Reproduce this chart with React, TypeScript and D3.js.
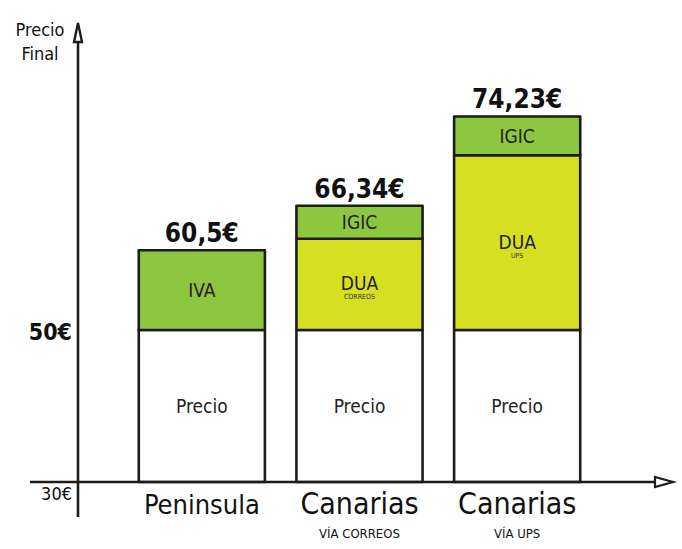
import React, { useEffect, useRef } from 'react';
import * as d3 from 'd3';

// categories and stacked segments (values in €)
const categories = ['Peninsula', 'Canarias', 'Canarias'];
const subLabels = ['', 'VÍA CORREOS', 'VÍA UPS'];
const totals = ['60,5€', '66,34€', '74,23€'];
const precio = [50, 50, 50];
const dua = [0, 12.0, 23.0];
const impuesto = [10.5, 4.34, 5.1];
const impuestoNames = ['IVA', 'IGIC', 'IGIC'];
const duaSub = ['', 'CORREOS', 'UPS'];
const yTicks = [30, 50];

const GREEN = '#8dc63f';
const YELLOW = '#d7df23';
const INK = '#1c1c1c';
const FONT = '"DejaVu Sans Condensed", "Liberation Sans Narrow", sans-serif';

const App: React.FC = () => {
  const ref = useRef<SVGSVGElement>(null);

  useEffect(() => {
    if (!ref.current) return;
    const svg = d3.select(ref.current);
    svg.selectAll('*').remove();

    const y = d3.scaleLinear().domain([30, 50]).range([482, 330]);
    const x = d3.scaleBand<number>().domain([0, 1, 2]).range([123, 596]).paddingInner(0.2).paddingOuter(0.1);

    // stacked bars
    categories.forEach((_, i) => {
      const g = svg.append('g');
      const x0 = x(i) as number;
      const w = x.bandwidth();
      const segs = [
        { lo: 30, hi: precio[i], fill: '#fff', name: 'Precio', sub: '' },
        { lo: precio[i], hi: precio[i] + dua[i], fill: YELLOW, name: 'DUA', sub: duaSub[i] },
        { lo: precio[i] + dua[i], hi: precio[i] + dua[i] + impuesto[i], fill: GREEN, name: impuestoNames[i], sub: '' },
      ].filter(s => s.hi > s.lo);

      segs.forEach(s => {
        g.append('rect')
          .attr('x', x0).attr('y', y(s.hi))
          .attr('width', w).attr('height', y(s.lo) - y(s.hi))
          .attr('fill', s.fill)
          .attr('stroke', INK).attr('stroke-width', 2.6)
          .attr('stroke-linejoin', 'round');
        const cy = (y(s.hi) + y(s.lo)) / 2;
        const big = s.name === 'DUA';
        g.append('text')
          .attr('x', x0 + w / 2).attr('y', big ? cy + 6 : cy + 7)
          .attr('text-anchor', 'middle')
          .style('font-family', FONT).style('font-weight', 300)
          .style('font-size', '19px').attr('fill', '#222')
          .text(s.name);
        if (s.sub) {
          g.append('text')
            .attr('x', x0 + w / 2).attr('y', cy + 15)
            .attr('text-anchor', 'middle')
            .style('font-family', FONT)
            .style('font-size', '7px').attr('fill', '#333')
            .text(s.sub);
        }
      });

      const top = precio[i] + dua[i] + impuesto[i];
      svg.append('text')
        .attr('x', x0 + w / 2).attr('y', y(top) - 8)
        .attr('text-anchor', 'middle')
        .style('font-family', FONT).style('font-weight', 'bold')
        .style('font-size', '26px').attr('fill', '#111')
        .text(totals[i]);

      svg.append('text')
        .attr('x', x0 + w / 2).attr('y', 514)
        .attr('text-anchor', 'middle')
        .style('font-family', FONT).style('font-weight', 500)
        .style('font-size', i === 0 ? '27px' : '30px').attr('fill', '#111')
        .text(categories[i]);
      if (subLabels[i]) {
        svg.append('text')
          .attr('x', x0 + w / 2).attr('y', 538)
          .attr('text-anchor', 'middle')
          .style('font-family', FONT)
          .style('font-size', '13px').attr('fill', '#111')
          .text(subLabels[i]);
      }
    });

    // axes (drawn by hand, sketch style)
    svg.append('line')
      .attr('x1', 30).attr('x2', 655).attr('y1', y(30)).attr('y2', y(30))
      .attr('stroke', INK).attr('stroke-width', 2.6);
    svg.append('path')
      .attr('d', `M655,${y(30) - 5} L673,${y(30)} L655,${y(30) + 5} Z`)
      .attr('fill', '#fff').attr('stroke', INK).attr('stroke-width', 2.2);

    svg.append('line')
      .attr('x1', 78).attr('x2', 78).attr('y1', 42).attr('y2', 517)
      .attr('stroke', INK).attr('stroke-width', 2.6);
    svg.append('path')
      .attr('d', `M78,23 L74,42 L82,42 Z`)
      .attr('fill', '#fff').attr('stroke', INK).attr('stroke-width', 2.4);

    yTicks.forEach(t => {
      svg.append('text')
        .attr('x', 72).attr('y', t === 30 ? y(t) + 18 : y(t) + 10)
        .attr('text-anchor', 'end')
        .style('font-family', FONT)
        .style('font-weight', t === 30 ? 300 : 'bold')
        .style('font-size', t === 30 ? '18px' : '23px').attr('fill', '#111')
        .text(`${t}€`);
    });

    svg.append('text')
      .attr('x', 40).attr('y', 36)
      .attr('text-anchor', 'middle')
      .style('font-family', FONT).style('font-weight', 300)
      .style('font-size', '18px').attr('fill', '#111')
      .text('Precio');
    svg.append('text')
      .attr('x', 40).attr('y', 60)
      .attr('text-anchor', 'middle')
      .style('font-family', FONT).style('font-weight', 300)
      .style('font-size', '18px').attr('fill', '#111')
      .text('Final');
  }, []);

  return (
    <div style={{ position: 'absolute', left: 0, top: 0, background: '#fff' }}>
      <svg ref={ref} width={682} height={549}></svg>
    </div>
  );
};

export default App;
